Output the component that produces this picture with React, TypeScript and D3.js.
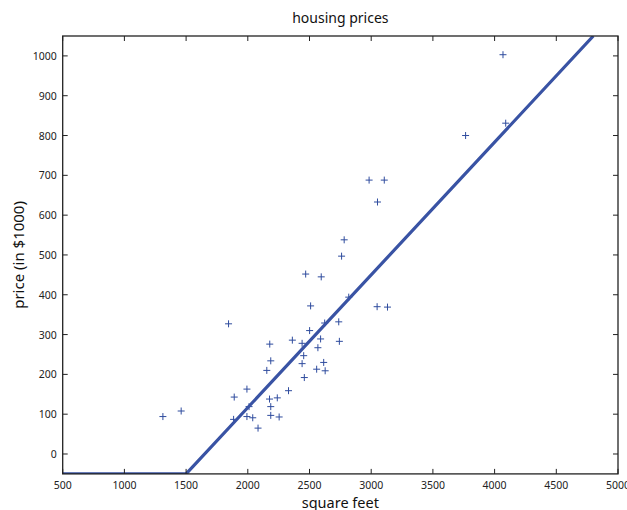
import React from "react";
import * as d3 from "d3";

const sqft = [1312, 1460, 1844, 1890, 1993, 1885, 1993, 2040, 2083, 2010, 2178, 2186, 2154, 2361, 2440, 2501, 2623, 2737, 2590, 2568, 2742, 2453, 2440, 2615, 2558, 2627, 2458, 2330, 2176, 2239, 2186, 2186, 2254, 2781, 2760, 2469, 2595, 2509, 2818, 3048, 3132, 2983, 3106, 3051, 4068, 4090, 3765];
const price = [94, 108, 327, 143, 163, 87, 94, 91, 65, 119, 276, 234, 210, 286, 278, 310, 329, 332, 289, 267, 283, 247, 227, 230, 213, 209, 192, 159, 138, 141, 119, 97, 93, 538, 497, 452, 445, 372, 394, 370, 369, 688, 688, 633, 1003, 831, 800];

const fitX = [500, 1500, 4800];
const fitY = [-50, -50, 1050];

const xTicks = [500, 1000, 1500, 2000, 2500, 3000, 3500, 4000, 4500, 5000];
const yTicks = [0, 100, 200, 300, 400, 500, 600, 700, 800, 900, 1000];

const W = 627, H = 510;
const L = 62.7, R = 618, T = 36, B = 473.9;
const FONT = "'Noto Sans', 'Open Sans', sans-serif";

export default function App() {
  const x = d3.scaleLinear().domain([500, 5000]).range([L, R]);
  const y = d3.scaleLinear().domain([-50, 1050]).range([B, T]);
  const line = d3.line<number>().x((d, i) => x(fitX[i])).y((d, i) => y(fitY[i]));
  const pts = sqft.map((s, i) => [x(s), y(price[i])]);
  const tl = 5;
  const axisColor = "#222";
  return (
    <svg width={W} height={H} style={{ position: "absolute", left: 0, top: 0, background: "#fff" }}>
      <defs>
        <clipPath id="plot">
          <rect x={L} y={T} width={R - L} height={B - T} />
        </clipPath>
      </defs>
      <rect x={0} y={0} width={W} height={H} fill="#fff" />
      <g stroke="#2f4c9e" strokeWidth={1} fill="none">
        {pts.map(([px, py], i) => (
          <g key={i}>
            <line x1={px - 3.5} x2={px + 3.5} y1={py} y2={py} />
            <line x1={px} x2={px} y1={py - 3.5} y2={py + 3.5} />
          </g>
        ))}
      </g>
      <g clipPath="url(#plot)">
        <path d={line(fitX) || ""} stroke="#3953a4" strokeWidth={3.2} fill="none" strokeLinejoin="miter" />
      </g>
      <rect x={L} y={T} width={R - L} height={B - T} fill="none" stroke={axisColor} strokeWidth={1.3} />
      <g stroke={axisColor} strokeWidth={1}>
        {xTicks.map((t) => (
          <g key={"xt" + t}>
            <line x1={x(t)} x2={x(t)} y1={B} y2={B - tl} />
            <line x1={x(t)} x2={x(t)} y1={T} y2={T + tl} />
          </g>
        ))}
        {yTicks.map((t) => (
          <g key={"yt" + t}>
            <line x1={L} x2={L + tl} y1={y(t)} y2={y(t)} />
            <line x1={R} x2={R - tl} y1={y(t)} y2={y(t)} />
          </g>
        ))}
      </g>
      <g fontFamily={FONT} fontSize={10.5} fill="#222">
        {xTicks.map((t) => (
          <text key={"xl" + t} x={x(t)} y={B + 15.5} textAnchor="middle">{t}</text>
        ))}
        {yTicks.map((t) => (
          <text key={"yl" + t} x={L - 6} y={y(t) + 4} textAnchor="end">{t}</text>
        ))}
      </g>
      <text x={(L + R) / 2} y={23} textAnchor="middle" fontFamily={FONT} fontSize={14} fill="#111">housing prices</text>
      <text x={(L + R) / 2} y={507.5} textAnchor="middle" fontFamily={FONT} fontSize={14.5} fill="#111">square feet</text>
      <text transform={`translate(24, ${(T + B) / 2}) rotate(-90)`} textAnchor="middle" fontFamily={FONT} fontSize={15} fill="#111">price (in $1000)</text>
    </svg>
  );
}
